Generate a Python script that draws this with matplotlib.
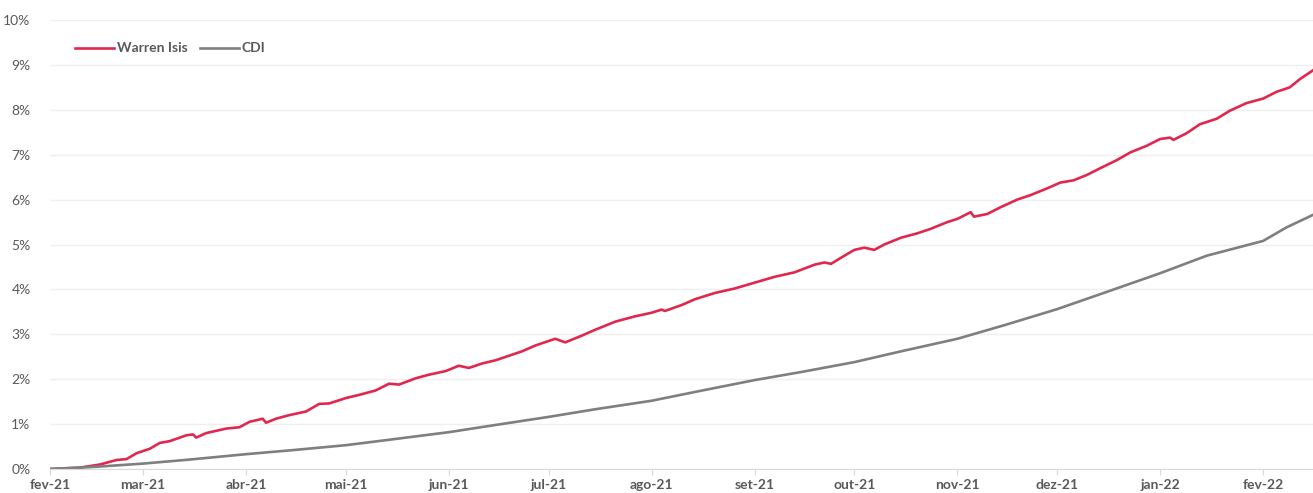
import pandas as pd
import matplotlib.pyplot as plt
from matplotlib.ticker import PercentFormatter

# Warren Isis - rentabilidade acumulada (%)
warren_dates = [
    '2021-02-01', '2021-02-10', '2021-02-16', '2021-02-21', '2021-02-24', '2021-02-27',
    '2021-03-03', '2021-03-06', '2021-03-09', '2021-03-14', '2021-03-16', '2021-03-17',
    '2021-03-20', '2021-03-23', '2021-03-26', '2021-03-30', '2021-04-02', '2021-04-06',
    '2021-04-07', '2021-04-10', '2021-04-14', '2021-04-19', '2021-04-23', '2021-04-26',
    '2021-05-01', '2021-05-05', '2021-05-10', '2021-05-14', '2021-05-17', '2021-05-22',
    '2021-05-26', '2021-05-31', '2021-06-04', '2021-06-07', '2021-06-11', '2021-06-15',
    '2021-06-19', '2021-06-23', '2021-06-27', '2021-07-03', '2021-07-06', '2021-07-11',
    '2021-07-15', '2021-07-21', '2021-07-27', '2021-08-01', '2021-08-04', '2021-08-05',
    '2021-08-10', '2021-08-14', '2021-08-20', '2021-08-26', '2021-09-01', '2021-09-07',
    '2021-09-13', '2021-09-19', '2021-09-22', '2021-09-24', '2021-09-28', '2021-10-01',
    '2021-10-04', '2021-10-07', '2021-10-10', '2021-10-15', '2021-10-20', '2021-10-24',
    '2021-10-29', '2021-11-01', '2021-11-05', '2021-11-06', '2021-11-10', '2021-11-14',
    '2021-11-19', '2021-11-23', '2021-11-28', '2021-12-02', '2021-12-06', '2021-12-10',
    '2021-12-14', '2021-12-19', '2021-12-23', '2021-12-28', '2022-01-01', '2022-01-04',
    '2022-01-05', '2022-01-09', '2022-01-13', '2022-01-18', '2022-01-22', '2022-01-27',
    '2022-02-01', '2022-02-05', '2022-02-09', '2022-02-12', '2022-02-16',
]
warren_vals = [
    0.00, 0.03, 0.10, 0.20, 0.22, 0.35,
    0.45, 0.58, 0.62, 0.75, 0.77, 0.70,
    0.80, 0.85, 0.90, 0.93, 1.05, 1.12,
    1.03, 1.12, 1.20, 1.28, 1.45, 1.46,
    1.58, 1.65, 1.75, 1.90, 1.88, 2.02,
    2.10, 2.18, 2.30, 2.25, 2.35, 2.42,
    2.52, 2.62, 2.75, 2.90, 2.82, 2.97,
    3.10, 3.28, 3.40, 3.48, 3.55, 3.52,
    3.65, 3.78, 3.92, 4.02, 4.15, 4.28,
    4.38, 4.55, 4.60, 4.57, 4.75, 4.88,
    4.93, 4.88, 5.00, 5.15, 5.25, 5.35,
    5.50, 5.57, 5.72, 5.62, 5.68, 5.83,
    6.00, 6.10, 6.25, 6.38, 6.43, 6.55,
    6.70, 6.88, 7.05, 7.20, 7.35, 7.38,
    7.33, 7.48, 7.68, 7.80, 7.98, 8.15,
    8.25, 8.40, 8.50, 8.68, 8.88,
]

# CDI acumulado (%)
cdi_dates = [
    '2021-02-01', '2021-02-15', '2021-03-01', '2021-03-15', '2021-04-01', '2021-04-15',
    '2021-05-01', '2021-05-15', '2021-06-01', '2021-06-15', '2021-07-01', '2021-07-15',
    '2021-08-01', '2021-08-15', '2021-09-01', '2021-09-15', '2021-10-01', '2021-10-15',
    '2021-11-01', '2021-11-15', '2021-12-01', '2021-12-15', '2022-01-01', '2022-01-15',
    '2022-02-01', '2022-02-08', '2022-02-16',
]
cdi_vals = [
    0.00, 0.05, 0.12, 0.21, 0.33, 0.42,
    0.53, 0.66, 0.82, 0.98, 1.16, 1.33,
    1.52, 1.73, 1.98, 2.16, 2.38, 2.62,
    2.90, 3.20, 3.56, 3.92, 4.36, 4.75,
    5.08, 5.38, 5.66,
]

meses = ['fev-21', 'mar-21', 'abr-21', 'mai-21', 'jun-21', 'jul-21', 'ago-21',
         'set-21', 'out-21', 'nov-21', 'dez-21', 'jan-22', 'fev-22']

plt.rcParams['font.family'] = ['Lato', 'DejaVu Sans']

fig = plt.figure(figsize=(13.13, 4.93), dpi=100)
ax = fig.add_axes([0.0381, 0.0487, 0.9619, 0.9107])

ax.plot(pd.to_datetime(warren_dates), warren_vals, color='#E0284F', linewidth=1.9, label='Warren Isis')
ax.plot(pd.to_datetime(cdi_dates), cdi_vals, color='#7F7F7F', linewidth=1.9, label='CDI')

ax.set_xlim(pd.Timestamp('2021-02-01'), pd.Timestamp('2022-02-16'))
ax.set_ylim(0, 10)
ax.set_yticks(range(0, 11))
ax.yaxis.set_major_formatter(PercentFormatter(decimals=0))

ticks = pd.date_range('2021-02-01', '2022-02-01', freq='MS')
ax.set_xticks(ticks)
ax.set_xticklabels(meses, fontweight='bold', color='#595959', fontsize=10)

ax.grid(axis='y', color='#EFEFEF', linewidth=1)
ax.set_axisbelow(True)
for s in ['top', 'right', 'left']:
    ax.spines[s].set_visible(False)
ax.spines['bottom'].set_color('#D9D9D9')
ax.tick_params(axis='x', length=4, color='#D9D9D9', pad=3)
ax.tick_params(axis='y', length=0, labelsize=10, labelcolor='#595959', pad=14)

leg = ax.legend(loc='upper left', bbox_to_anchor=(0.01, 0.978), ncol=2, frameon=False,
                handlelength=2.8, handletextpad=0.2, columnspacing=0.9,
                prop={'weight': 'bold', 'size': 10})
for t in leg.get_texts():
    t.set_color('#595959')

plt.savefig('out.png', dpi=100)
